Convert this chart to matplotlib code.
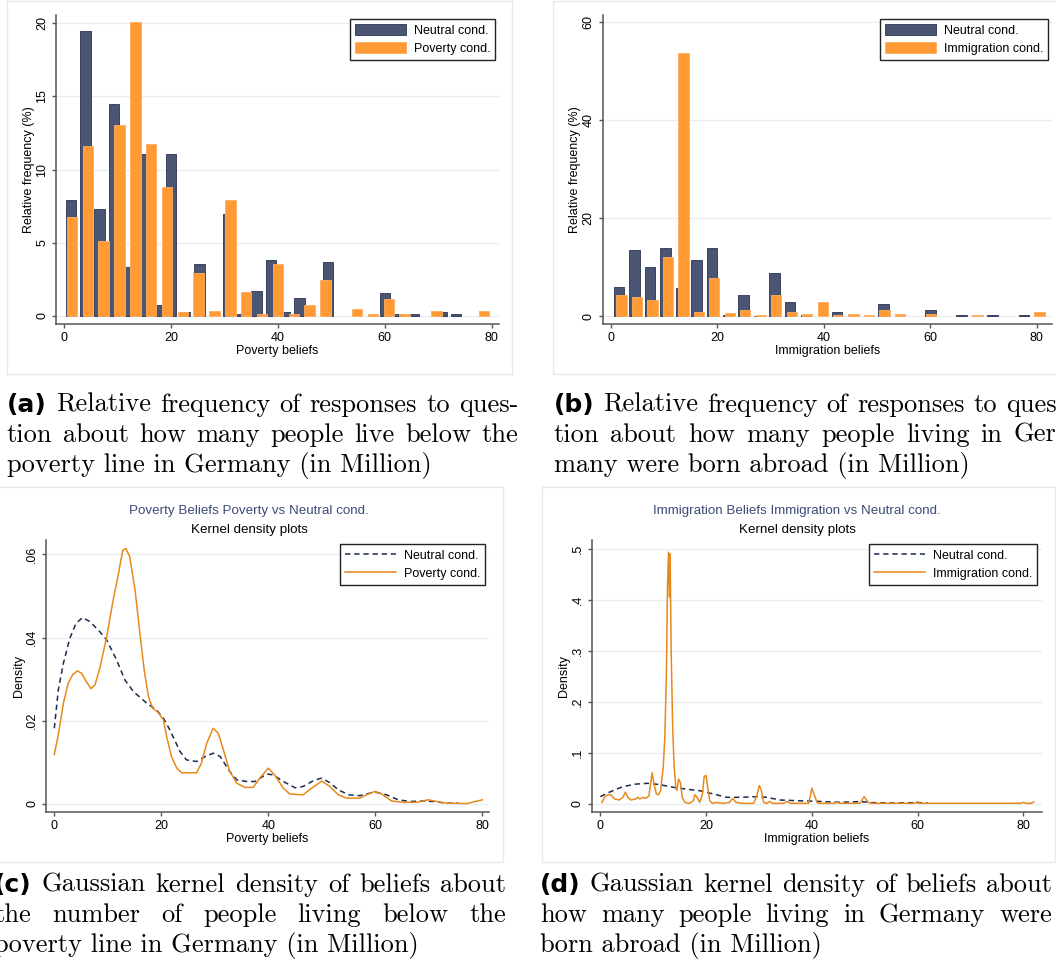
import numpy as np
import matplotlib.pyplot as plt
from matplotlib.patches import Rectangle

W, H = 1056, 972

NAVY = '#4a5573'
NAVY_EDGE = '#2b3350'
ORANGE = '#ff9a35'
ORANGE_EDGE = '#ffad5e'
LINE_NAVY = '#1c2b4e'
LINE_ORANGE = '#e8891d'
GRID = '#e8eef0'
AXIS = '#555555'
FRAME = '#e2eaec'
TITLE_BLUE = '#3b4b77'

plt.rcParams['font.family'] = ['Liberation Sans', 'DejaVu Sans']

# ---- (a) poverty beliefs, relative frequency (%) per histogram bin
pov_neutral_bins = (0, 80, 30)
pov_neutral_pct = [7.93, 19.48, 7.33, 14.5, 3.35, 11.07, 0.75, 11.07, 0.25, 3.58,
                   0.0, 6.97, 0.1, 1.7, 3.83, 0.25, 1.25, 0.0, 3.69, 0.0,
                   0.0, 0.0, 1.6, 0.13, 0.13, 0.0, 0.25, 0.13, 0.0, 0.0]
pov_treat_bins = (0, 80, 27)
pov_treat_pct = [6.79, 11.6, 5.1, 13.07, 20.07, 11.73, 8.84, 0.25, 2.92, 0.36,
                 7.93, 1.64, 0.14, 3.58, 0.14, 0.75, 2.44, 0.0, 0.5, 0.14,
                 1.14, 0.14, 0.0, 0.36, 0.0, 0.0, 0.36]

# ---- (b) immigration beliefs
imm_neutral_bins = (0, 82, 28)
imm_neutral_pct = [6.0, 13.4, 9.95, 13.9, 5.65, 11.4, 13.9, 0.3, 4.36, 0.1,
                   8.86, 2.93, 0.2, 0.0, 0.75, 0.0, 0.0, 2.4, 0.0, 0.0,
                   1.3, 0.0, 0.2, 0.0, 0.2, 0.0, 0.2, 0.0]
imm_treat_bins = (0.5, 82, 28)
imm_treat_pct = [4.2, 3.9, 3.3, 12.0, 53.7, 0.75, 7.83, 0.55, 1.3, 0.2,
                 4.2, 0.75, 0.4, 2.93, 0.2, 0.4, 0.2, 1.3, 0.4, 0.0,
                 0.4, 0.0, 0.0, 0.2, 0.0, 0.0, 0.0, 0.75]

# ---- (c) kernel densities, poverty beliefs
kc_neutral_x = [0, 0.75, 1.7, 2.9, 4.05, 5.3, 6.7, 8.5, 9.8, 11.65, 13.2, 14.8, 17.3,
                19.1, 20.4, 21.6, 23.5, 24.7, 26.6, 28.2, 29.7, 31.0, 32.8, 34.1,
                35.95, 37.5, 39.7, 40.9, 42.8, 45, 46.5, 48.7, 50, 51.5, 53.1, 55,
                57.1, 59, 60.2, 62.1, 64.3, 66.5, 69, 70.8, 73.3, 75.5]
kc_neutral_y = [.0182, .0274, .0338, .0398, .0434, .0448, .0438, .0414, .0394, .0346,
                .0298, .027, .0242, .0226, .0206, .0178, .0126, .0106, .0102, .0114,
                .0122, .0114, .0078, .0058, .0054, .0054, .0072, .007, .0054, .0039,
                .0042, .0058, .0062, .0051, .0034, .0022, .002, .0026, .0028, .0022,
                .001, .0006, .0007, .0006, .0002, .0002]
kc_treat_x = [0, 0.75, 1.7, 2.6, 3.4, 4.3, 5.1, 6.0, 6.85, 7.6, 8.5, 9.8, 11.0, 12,
              12.8, 13.4, 14.1, 15.1, 16.0, 16.8, 17.6, 18.4, 19.4, 20.4, 21, 21.9,
              22.9, 23.8, 26.6, 27.5, 28.5, 29.7, 30.65, 31.6, 32.8, 34.1, 35.6, 37.2,
              38.4, 40, 41.2, 42.8, 44, 46.5, 48.1, 50, 51.5, 53.1, 54.6, 57.1, 58.7,
              59.9, 61.2, 63.05, 65.2, 67.7, 69.9, 71.5, 73.3, 77.1, 80]
kc_treat_y = [.0119, .0166, .0242, .029, .031, .032, .0314, .0294, .0277, .0286,
              .0326, .0402, .049, .0554, .061, .0614, .0594, .0514, .041, .0322,
              .0258, .023, .022, .0202, .0162, .0114, .0086, .0075, .0075, .0098,
              .0146, .0182, .017, .013, .0078, .005, .004, .004, .0062, .0086,
              .007, .0038, .0024, .0022, .0038, .0055, .0042, .0022, .0014, .0014,
              .0024, .003, .0024, .0007, .0004, .0004, .001, .0006, .0002, .0001, .001]

# ---- (d) kernel densities, immigration beliefs
kd_neutral_x = [0, 1.7, 4.25, 6.8, 9, 11.2, 13.8, 16.3, 18.8, 21.4, 23.9, 26.4, 29.6,
                31.5, 34, 37.2, 41, 45.3, 49.1, 51.6, 55.4, 59.8, 62]
kd_neutral_y = [.0144, .023, .034, .039, .0405, .038, .0327, .029, .026, .0196, .013,
                .013, .0144, .013, .0078, .0065, .0052, .0033, .0046, .0026, .002,
                .0026, .002]
kd_treat_x = [0.3, 0.76, 1.4, 2.0, 2.7, 3.6, 4.25, 4.75, 5.2, 5.8, 6.7, 7.1, 7.5, 8.05,
              8.6, 9.2, 9.5, 9.8, 10.15, 10.6, 11.0, 11.4, 11.9, 12.2, 12.5, 12.7,
              12.9, 13.06, 13.2, 13.4, 13.7, 13.95, 14.3, 14.5, 14.8, 15.15, 15.5, 16,
              16.9, 17.6, 17.9, 18.3, 18.8, 19.3, 19.65, 20, 20.3, 20.7, 21.2, 21.9,
              23.3, 24.4, 25.05, 25.7, 27.1, 29.0, 29.6, 30.06, 30.4, 30.9, 31.5, 32,
              32.5, 34.7, 35.3, 36, 39.4, 39.8, 40.0, 40.4, 41, 41.3, 44.2, 44.7, 45.4,
              49.1, 49.9, 50.4, 51, 59.5, 60, 60.6, 79.4, 80, 80.6, 81.5, 82]
kd_treat_y = [.003, .013, .018, .018, .0098, .0078, .013, .023, .013, .0078, .0098,
              .013, .0098, .013, .011, .016, .039, .061, .039, .0196, .018, .026, .072,
              .131, .255, .425, .493, .405, .49, .30, .144, .078, .029, .027, .049,
              .042, .013, .003, .0013, .0065, .018, .013, .003, .0196, .054, .056,
              .033, .0065, .001, .003, .0013, .003, .011, .003, .001, .0013, .016,
              .036, .029, .003, .0013, .005, .0013, .0013, .005, .0013, .0013, .0196,
              .031, .0196, .003, .0013, .0013, .003, .0013, .0013, .0144, .0065,
              .0013, .0013, .0046, .0013, .0013, .003, .0013, .0013, .004]

captions = {
    'a': ['(a)', 'Relative frequency of responses to ques-',
          'tion about how many people live below the',
          'poverty line in Germany (in Million)'],
    'b': ['(b)', 'Relative frequency of responses to ques-',
          'tion about how many people living in Ger-',
          'many were born abroad (in Million)'],
    'c': ['(c)', 'Gaussian kernel density of beliefs about',
          'the number of people living below the',
          'poverty line in Germany (in Million)'],
    'd': ['(d)', 'Gaussian kernel density of beliefs about',
          'how many people living in Germany were',
          'born abroad (in Million)'],
}


def centers(lo, hi, n):
    return lo + (np.arange(n) + 0.5) * (hi - lo) / n


def px_axes(fig, l, t, r, b):
    return fig.add_axes([l / W, 1 - b / H, (r - l) / W, (b - t) / H])


def stata_style(ax, xlim, ylim, yticks, ylabels, xlabel, ylabel):
    ax.set_xlim(*xlim)
    ax.set_ylim(*ylim)
    for s in ['top', 'right']:
        ax.spines[s].set_visible(False)
    for s in ['left', 'bottom']:
        ax.spines[s].set_color(AXIS)
        ax.spines[s].set_linewidth(1.1)
    ax.set_xticks([0, 20, 40, 60, 80])
    ax.set_yticks(yticks)
    ax.set_yticklabels(ylabels)
    ax.tick_params(colors=AXIS, labelcolor='black', length=3.2, width=1.0,
                   labelsize=9, pad=2.5)
    ax.tick_params(axis='y', labelrotation=90)
    for lab in ax.get_yticklabels():
        lab.set_va('center')
    ax.grid(axis='y', color=GRID, lw=0.9)
    ax.set_axisbelow(True)
    ax.set_xlabel(xlabel, fontsize=9, labelpad=0.5)
    ax.set_ylabel(ylabel, fontsize=9, labelpad=1)


def add_legend(ax, fig, handles, labels, right, top):
    leg = ax.legend(handles, labels, loc='upper right',
                    bbox_to_anchor=(right / W, 1 - top / H),
                    bbox_transform=fig.transFigure, borderaxespad=0,
                    fontsize=9, handlelength=4.1, handleheight=1.0,
                    handletextpad=0.6, labelspacing=0.42, borderpad=0.4,
                    fancybox=False, framealpha=1, edgecolor='#222222')
    leg.get_frame().set_linewidth(1.0)


def caption(fig, key, x0, x1, y0):
    # two justified lines, last line left aligned (LaTeX subcaption look)
    r = fig.canvas.get_renderer()
    tag, l1, l2, l3 = captions[key]
    size = 19
    serif = dict(fontsize=size, family='cmr10', va='baseline')
    rows = [[(tag, True)] + [(w, False) for w in l1.split()],
            [(w, False) for w in l2.split()]]
    for k, row in enumerate(rows):
        y = 1 - (y0 + 30 * k) / H
        objs = []
        for w, bold in row:
            if bold:
                t = fig.text(0, y, w, fontsize=18, family='DejaVu Sans',
                             weight='bold', va='baseline')
            else:
                t = fig.text(0, y, w, **serif)
            objs.append(t)
        widths = [t.get_window_extent(r).width for t in objs]
        gap = (x1 - x0 - sum(widths)) / (len(objs) - 1)
        x = x0
        for t, wd in zip(objs, widths):
            t.set_x(x / W)
            x += wd + gap
    fig.text(x0 / W, 1 - (y0 + 60) / H, l3, **serif)


fig = plt.figure(figsize=(W / 100, H / 100), dpi=100)

# panel frames
for l, t, r, b in [(7, 1, 512, 374), (552.7, 1, 1062, 374),
                   (-5, 487, 502.7, 861.7), (541.7, 487, 1055, 861.7)]:
    fig.patches.append(Rectangle((l / W, 1 - b / H), (r - l) / W, (b - t) / H,
                                 transform=fig.transFigure, fill=False,
                                 edgecolor=FRAME, lw=1.0))

bar_w = 1.95

# (a)
ax = px_axes(fig, 56, 15, 499, 324)
xn = centers(*pov_neutral_bins)
xt = centers(*pov_treat_bins)
hn = np.array(pov_neutral_pct)
ht = np.array(pov_treat_pct)
b1 = ax.bar(xn[hn > 0], hn[hn > 0], width=bar_w, color=NAVY, edgecolor=NAVY_EDGE, lw=0.6)
b2 = ax.bar(xt[ht > 0], ht[ht > 0], width=bar_w, color=ORANGE, edgecolor=ORANGE_EDGE, lw=0.6)
stata_style(ax, (-1.5, 81.35), (-0.55, 20.57), [0, 5, 10, 15, 20],
            ['0', '5', '10', '15', '20'], 'Poverty beliefs', 'Relative frequency (%)')
add_legend(ax, fig, [b1, b2], ['Neutral cond.', 'Poverty cond.'], 495, 19)

# (b)
ax = px_axes(fig, 602.7, 15, 1052, 324)
xn = centers(*imm_neutral_bins)
xt = centers(*imm_treat_bins)
hn = np.array(imm_neutral_pct)
ht = np.array(imm_treat_pct)
b1 = ax.bar(xn[hn > 0], hn[hn > 0], width=bar_w, color=NAVY, edgecolor=NAVY_EDGE, lw=0.6)
b2 = ax.bar(xt[ht > 0], ht[ht > 0], width=bar_w, color=ORANGE, edgecolor=ORANGE_EDGE, lw=0.6)
stata_style(ax, (-1.56, 82.9), (-1.63, 61.35), [0, 20, 40, 60],
            ['0', '20', '40', '60'], 'Immigration beliefs', 'Relative frequency (%)')
add_legend(ax, fig, [b1, b2], ['Neutral cond.', 'Immigration cond.'], 1048, 19)

# (c)
ax = px_axes(fig, 46, 540, 489, 812.3)
l1, = ax.plot(kc_neutral_x, kc_neutral_y, color=LINE_NAVY, lw=1.1, ls=(0, (3.5, 2.5)))
l2, = ax.plot(kc_treat_x, kc_treat_y, color=LINE_ORANGE, lw=1.1)
stata_style(ax, (-1.55, 81.25), (-0.0020, 0.06344), [0, .02, .04, .06],
            ['0', '.02', '.04', '.06'], 'Poverty beliefs', 'Density')
add_legend(ax, fig, [l1, l2], ['Neutral cond.', 'Poverty cond.'], 485.3, 544)
fig.text(249 / W, 1 - 510.7 / H, 'Poverty Beliefs Poverty vs Neutral cond.',
         ha='center', va='center', fontsize=9.6, color=TITLE_BLUE)
fig.text(249 / W, 1 - 530 / H, 'Kernel density plots', ha='center', va='center',
         fontsize=9.6, color='black')

# (d)
ax = px_axes(fig, 591.7, 540, 1041.7, 812.3)
l1, = ax.plot(kd_neutral_x, kd_neutral_y, color=LINE_NAVY, lw=1.1, ls=(0, (3.5, 2.5)))
l2, = ax.plot(kd_treat_x, kd_treat_y, color=LINE_ORANGE, lw=1.1)
stata_style(ax, (-1.63, 83.48), (-0.0163, 0.517), [0, .1, .2, .3, .4, .5],
            ['0', '.1', '.2', '.3', '.4', '.5'], 'Immigration beliefs', 'Density')
add_legend(ax, fig, [l1, l2], ['Neutral cond.', 'Immigration cond.'], 1037, 544)
fig.text(797 / W, 1 - 510.7 / H, 'Immigration Beliefs Immigration vs Neutral cond.',
         ha='center', va='center', fontsize=9.6, color=TITLE_BLUE)
fig.text(797 / W, 1 - 530 / H, 'Kernel density plots', ha='center', va='center',
         fontsize=9.6, color='black')

# captions
caption(fig, 'a', 6.7, 518.5, 411.7)
caption(fig, 'b', 553.5, 1065.3, 411.7)
caption(fig, 'c', -6, 506, 891.7)
caption(fig, 'd', 540, 1052, 891.7)

fig.savefig('out.png', dpi=100)
